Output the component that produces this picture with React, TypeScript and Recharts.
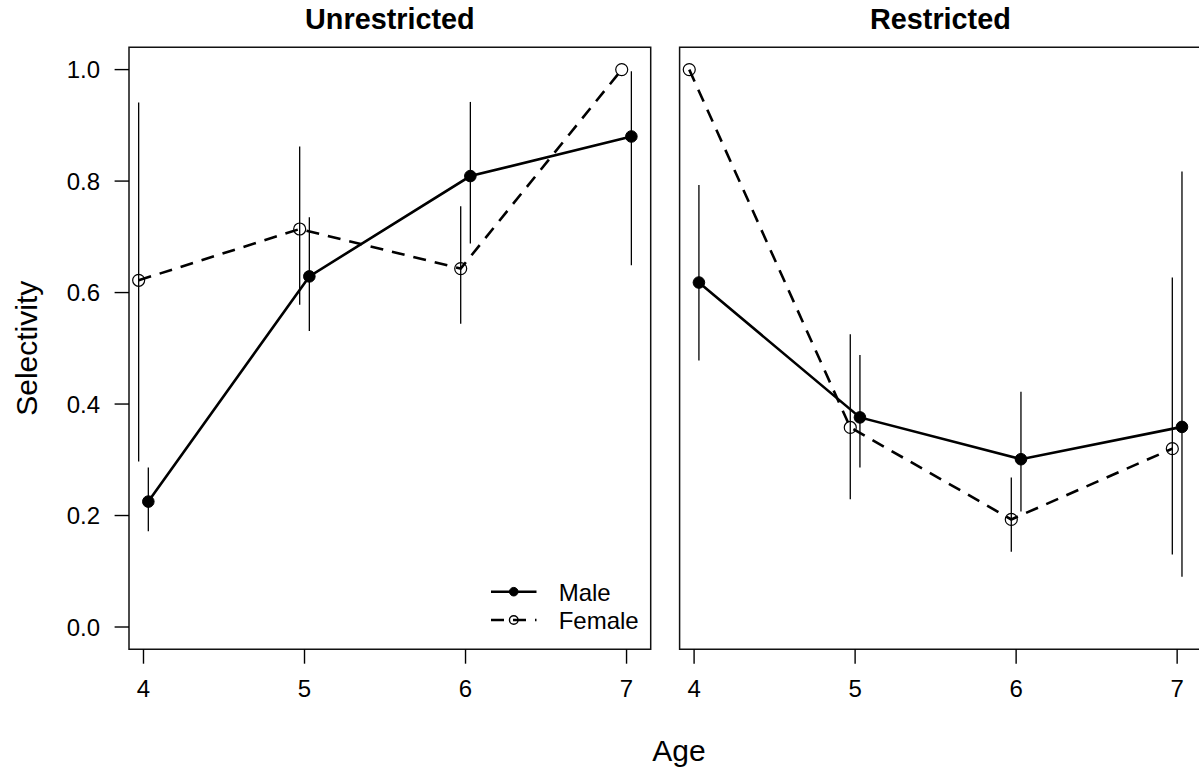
import { ErrorBar, Line, LineChart, ReferenceArea, XAxis, YAxis } from "recharts";

const ages = [4, 5, 6, 7];
const yTicks = [0, 0.2, 0.4, 0.6, 0.8, 1.0];

// Unrestricted fishery
const unrMale = [0.225, 0.629, 0.809, 0.88];
const unrMaleLo = [0.172, 0.531, 0.688, 0.649];
const unrMaleHi = [0.286, 0.735, 0.942, 0.997];
const unrFemale = [0.622, 0.714, 0.643, 1.0];
const unrFemaleLo = [0.297, 0.578, 0.544, 1.0];
const unrFemaleHi = [0.941, 0.862, 0.755, 1.0];

// Restricted fishery
const resMale = [0.618, 0.376, 0.301, 0.359];
const resMaleLo = [0.478, 0.286, 0.207, 0.09];
const resMaleHi = [0.793, 0.488, 0.422, 0.817];
const resFemale = [1.0, 0.358, 0.193, 0.32];
const resFemaleLo = [1.0, 0.229, 0.135, 0.13];
const resFemaleHi = [1.0, 0.525, 0.268, 0.627];

// sexes are nudged apart on the age axis so the bars don't overlap
const DODGE = 0.03;
const X_DOMAIN: [number, number] = [3.91, 7.15];
const Y_DOMAIN: [number, number] = [-0.04, 1.04];

const FONT = "'Liberation Sans', Arial, Helvetica, sans-serif";
const H = 774;
const PLOT_TOP = 47.3;
const PLOT_BOTTOM = 649.3;
const X_AXIS_H = 40;

type Row = { x: number; y: number; err: [number, number] };

function rows(v: number[], lo: number[], hi: number[], shift: number): Row[] {
  return ages.map((age, i) => ({
    x: age + shift,
    y: v[i],
    err: [v[i] - lo[i], hi[i] - v[i]],
  }));
}

const tickStyle = { fontSize: 24, fill: "#000", fontFamily: FONT };

function Panel({
  male,
  female,
  showY,
  width,
  left,
  marginLeft,
  marginRight,
}: {
  male: Row[];
  female: Row[];
  showY: boolean;
  width: number;
  left: number;
  marginLeft: number;
  marginRight: number;
}) {
  return (
    <div style={{ position: "absolute", left, top: 0 }}>
      <LineChart
        width={width}
        height={H}
        margin={{
          top: PLOT_TOP,
          right: marginRight,
          bottom: H - PLOT_BOTTOM - X_AXIS_H,
          left: marginLeft,
        }}
      >
        <XAxis
          type="number"
          dataKey="x"
          domain={X_DOMAIN}
          ticks={ages}
          allowDataOverflow
          height={X_AXIS_H}
          axisLine={false}
          tickLine={{ stroke: "#000", strokeWidth: 1.4 }}
          tickSize={14.4}
          tickMargin={16}
          tick={tickStyle}
        />
        <YAxis
          type="number"
          dataKey="y"
          domain={Y_DOMAIN}
          ticks={yTicks}
          allowDataOverflow
          hide={!showY}
          width={129}
          axisLine={false}
          tickLine={{ stroke: "#000", strokeWidth: 1.4 }}
          tickSize={14.4}
          tickMargin={14.6}
          tick={tickStyle}
          tickFormatter={(v: number) => v.toFixed(1)}
        />
        <ReferenceArea
          x1={X_DOMAIN[0]}
          x2={X_DOMAIN[1]}
          y1={Y_DOMAIN[0]}
          y2={Y_DOMAIN[1]}
          fill="none"
          stroke="#111"
          strokeWidth={1.5}
        />
        <Line
          data={female}
          dataKey="y"
          stroke="#000"
          strokeWidth={2.6}
          strokeDasharray="13 9"
          dot={{ r: 6, fill: "none", stroke: "#000", strokeWidth: 1.2, strokeDasharray: "none" }}
          activeDot={false}
          isAnimationActive={false}
        >
          <ErrorBar dataKey="err" direction="y" width={0} stroke="#000" strokeWidth={1.3} />
        </Line>
        <Line
          data={male}
          dataKey="y"
          stroke="#000"
          strokeWidth={2.6}
          dot={{ r: 5.8, fill: "#000", stroke: "#000", strokeWidth: 1 }}
          activeDot={false}
          isAnimationActive={false}
        >
          <ErrorBar dataKey="err" direction="y" width={0} stroke="#000" strokeWidth={1.3} />
        </Line>
      </LineChart>
    </div>
  );
}

export default function App() {
  return (
    <div
      style={{
        position: "fixed",
        left: 0,
        top: 0,
        width: 1199,
        height: H,
        overflow: "hidden",
        background: "#fff",
        fontFamily: FONT,
      }}
    >
      <Panel
        male={rows(unrMale, unrMaleLo, unrMaleHi, DODGE)}
        female={rows(unrFemale, unrFemaleLo, unrFemaleHi, -DODGE)}
        showY
        left={0}
        width={670}
        marginLeft={0}
        marginRight={19.3}
      />
      <Panel
        male={rows(resMale, resMaleLo, resMaleHi, DODGE)}
        female={rows(resFemale, resFemaleLo, resFemaleHi, -DODGE)}
        showY={false}
        left={660}
        width={560}
        marginLeft={19.6}
        marginRight={18.7}
      />
      <svg
        width={1199}
        height={H}
        style={{ position: "absolute", left: 0, top: 0, pointerEvents: "none" }}
        fontFamily={FONT}
      >
        <text x={389.9} y={29.3} textAnchor="middle" fontSize={28.8} fontWeight="bold">
          Unrestricted
        </text>
        <text x={940.4} y={29.3} textAnchor="middle" fontSize={28.8} fontWeight="bold">
          Restricted
        </text>
        <text
          x={0}
          y={0}
          transform="translate(26 348.3) rotate(-90)"
          textAnchor="middle"
          dominantBaseline="central"
          fontSize={30}
        >
          Selectivity
        </text>
        <text x={679} y={761} textAnchor="middle" fontSize={30}>
          Age
        </text>
        {/* legend */}
        <g stroke="#000" strokeWidth={2.6}>
          <line x1={491} x2={536.5} y1={591.7} y2={591.7} />
          <circle cx={513.75} cy={591.7} r={4.3} fill="#000" strokeWidth={1} />
          <line x1={491} x2={536.5} y1={620} y2={620} strokeDasharray="13 9" />
          <circle cx={513.75} cy={620} r={4.3} fill="none" strokeWidth={1.4} />
        </g>
        <text x={558.7} y={592} dominantBaseline="central" fontSize={24}>
          Male
        </text>
        <text x={558.7} y={620} dominantBaseline="central" fontSize={24}>
          Female
        </text>
      </svg>
    </div>
  );
}
